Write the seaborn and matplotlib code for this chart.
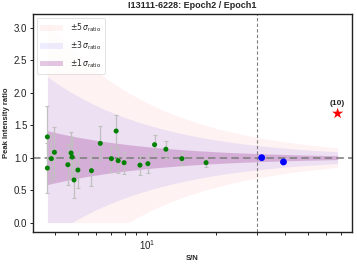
import numpy as np
import pandas as pd
import matplotlib
matplotlib.use("Agg")
import matplotlib.pyplot as plt
import matplotlib.ticker as mticker
import seaborn as sns

# Epoch2 / Epoch1 peak intensity ratios, S/N < 30 (green)
sn_low = [3.69, 3.69, 3.84, 3.96, 4.53, 4.68, 4.73, 4.82, 5.01, 5.74, 6.27,
          7.01, 7.35, 7.50, 7.96, 9.33, 10.1, 10.8, 12.1, 14.2, 18.1]
ratio_low = [1.32, 0.84, 0.985, 1.083, 0.892, 1.072, 1.01, 0.657, 0.81, 0.80, 1.22,
             0.985, 1.41, 0.954, 0.923, 0.885, 0.908, 1.20, 1.13, 0.985, 0.923]
err_low = [0.475, 0.38, 0.36, 0.39, 0.32, 0.33, 0.31, 0.27, 0.28, 0.24, 0.26,
           0.20, 0.245, 0.19, 0.17, 0.15, 0.145, 0.15, 0.13, 0.10, 0.06]

# S/N > 30 (blue)
sn_high = [31.6, 39.3]
ratio_high = [1.0, 0.934]

# flagged source
sn_flag = [67.6]
ratio_flag = [1.68]
flag_label = "(10)"

sn_cut = 30
# sigma_ratio model: a * (S/N)^-p
sig_a = 1.345
sig_p = 0.9
band_levels = [5, 3, 1]
band_colors = ["red", "blue", "purple"]
band_alphas = [0.05, 0.07, 0.22]

sns.set_style("ticks")
plt.rcParams["font.family"] = ["Liberation Sans", "DejaVu Sans"]
plt.rcParams["mathtext.fontset"] = "dejavusans"

fig, ax = plt.subplots(figsize=(3.57, 2.65), dpi=100)
fig.subplots_adjust(left=0.092, right=0.985, top=0.947, bottom=0.123)

# sigma bands over the observed S/N range
all_sn = sn_low + sn_high + sn_flag
sn_grid = np.geomspace(min(all_sn), max(all_sn), 300)
sigma = sig_a * sn_grid ** (-sig_p)
for k, col, a in zip(band_levels, band_colors, band_alphas):
    ax.fill_between(sn_grid, np.clip(1 - k * sigma, 0, None), 1 + k * sigma,
                    color=col, alpha=a, lw=0,
                    label=r"$\pm%d\,\sigma_{\rm ratio}$" % k, zorder=1)

ax.axhline(1.0, color="gray", ls="--", lw=1.2, dashes=(4.5, 2.5), zorder=2)
ax.axvline(sn_cut, color="gray", ls="--", lw=0.8, dashes=(3, 2), zorder=2)

df_low = pd.DataFrame({"sn": sn_low, "ratio": ratio_low, "err": err_low})
df_high = pd.DataFrame({"sn": sn_high, "ratio": ratio_high})
df_flag = pd.DataFrame({"sn": sn_flag, "ratio": ratio_flag})

ax.errorbar(df_low["sn"], df_low["ratio"], yerr=df_low["err"], fmt="none",
            ecolor="silver", elinewidth=0.9, capsize=1.6, capthick=0.8, zorder=3)
sns.scatterplot(data=df_low, x="sn", y="ratio", ax=ax, color="green",
                s=13, edgecolor="none", zorder=4, legend=False)
sns.scatterplot(data=df_high, x="sn", y="ratio", ax=ax, color="blue",
                s=24, edgecolor="none", zorder=4, legend=False)
sns.scatterplot(data=df_flag, x="sn", y="ratio", ax=ax, color="red", marker="*",
                s=70, edgecolor="none", zorder=5, legend=False)
for x, y in zip(sn_flag, ratio_flag):
    ax.annotate(flag_label, (x, y), xytext=(0, 5), textcoords="offset points",
                ha="center", va="bottom", fontsize=6, fontweight="bold")

ax.set_xscale("log")
ax.set_xlim(3.19, 77.8)
ax.set_ylim(-0.15, 3.21)
ax.xaxis.set_minor_formatter(mticker.NullFormatter())
ax.set_yticks([0.0, 0.5, 1.0, 1.5, 2.0, 2.5, 3.0])

ax.set_title("I13111-6228: Epoch2 / Epoch1", fontsize=6.5, fontweight="bold", pad=4)
ax.set_xlabel("S/N", fontsize=5.5, fontweight="bold", labelpad=2)
ax.set_ylabel("Peak Intensity ratio", fontsize=5.5, fontweight="bold", labelpad=3)
ax.tick_params(axis="both", which="both", labelsize=7, length=2.5, width=0.7,
               colors="#222222", pad=1.5)
for sp in ax.spines.values():
    sp.set_linewidth(1.0)
    sp.set_color("#222222")

leg = ax.legend(loc="upper left", fontsize=5.5, frameon=True, handlelength=3,
                borderpad=0.5, labelspacing=0.7, handletextpad=0.8)
leg.get_frame().set_linewidth(0.5)

fig.savefig("out.png", dpi=100)
